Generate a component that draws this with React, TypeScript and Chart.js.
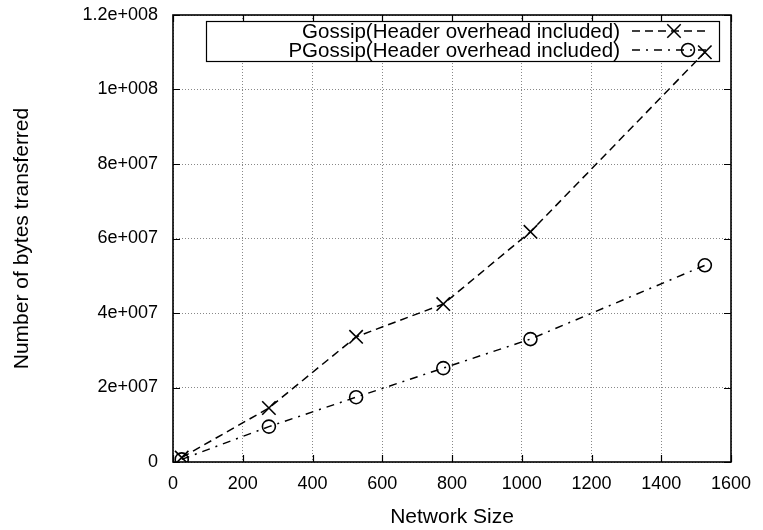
import React, { useEffect, useRef } from "react";
import { Chart, registerables } from "chart.js";

Chart.register(...registerables);

const networkSizes = [25, 275, 525, 775, 1025, 1525];
const gossipBytes = [1.2e6, 1.45e7, 3.36e7, 4.24e7, 6.18e7, 1.1e8];
const pgossipBytes = [0.7e6, 9.5e6, 1.74e7, 2.52e7, 3.3e7, 5.28e7];
const seriesLabels = [
  "Gossip(Header overhead included)",
  "PGossip(Header overhead included)",
];
const xTickLabels = ["0", "200", "400", "600", "800", "1000", "1200", "1400", "1600"];
const yTickLabels = ["0", "2e+007", "4e+007", "6e+007", "8e+007", "1e+008", "1.2e+008"];
const xTitle = "Network Size";
const yTitle = "Number of bytes transferred";

const FONT = "'Liberation Sans', Arial, Helvetica, sans-serif";

const framePlugin = {
  id: "gnuFrame",
  beforeDatasetsDraw(chart: any) {
    const { ctx, chartArea } = chart;
    const { left, right, top, bottom } = chartArea;
    const xs = chart.scales.x;
    const ys = chart.scales.y;
    ctx.save();
    // legend box
    const bx0 = 206, bx1 = 719, by0 = 21, by1 = 61;
    ctx.fillStyle = "#ffffff";
    ctx.fillRect(bx0, by0, bx1 - bx0, by1 - by0);
    ctx.strokeStyle = "#000";
    ctx.lineWidth = 1.2;
    ctx.strokeRect(bx0 + 0.5, by0 + 0.5, bx1 - bx0, by1 - by0);

    // frame
    ctx.lineWidth = 1.6;
    ctx.strokeStyle = "#000";
    ctx.strokeRect(left, top, right - left, bottom - top);
    // inward ticks
    const tl = 7;
    ctx.lineWidth = 1.2;
    ctx.beginPath();
    xs.ticks.forEach((t: any) => {
      const px = Math.round(xs.getPixelForValue(t.value)) + 0.5;
      ctx.moveTo(px, bottom);
      ctx.lineTo(px, bottom - tl);
      ctx.moveTo(px, top);
      ctx.lineTo(px, top + tl);
    });
    ys.ticks.forEach((t: any) => {
      const py = Math.round(ys.getPixelForValue(t.value)) + 0.5;
      ctx.moveTo(left, py);
      ctx.lineTo(left + tl, py);
      ctx.moveTo(right, py);
      ctx.lineTo(right - tl, py);
    });
    ctx.stroke();

    // legend entries
    const rows = [31, 50];
    const textRight = 620;
    const sx0 = 632, sx1 = 708;
    const markerX = [674, 688];
    ctx.font = `20.5px ${FONT}`;
    ctx.textAlign = "right";
    ctx.textBaseline = "middle";
    ctx.fillStyle = "#000";
    chart.data.datasets.forEach((ds: any, i: number) => {
      const y = rows[i];
      ctx.fillText(ds.label, textRight, y + 1);
      ctx.save();
      ctx.lineWidth = 1.5;
      ctx.setLineDash(ds.borderDash || []);
      ctx.beginPath();
      ctx.moveTo(sx0, y);
      ctx.lineTo(sx1, y);
      ctx.stroke();
      ctx.setLineDash([]);
      const mx = markerX[i];
      const r = ds.pointRadius;
      ctx.beginPath();
      if (ds.pointStyle === "crossRot") {
        const h = r * Math.SQRT1_2;
        ctx.moveTo(mx - h, y - h);
        ctx.lineTo(mx + h, y + h);
        ctx.moveTo(mx - h, y + h);
        ctx.lineTo(mx + h, y - h);
      } else {
        ctx.arc(mx, y, r, 0, Math.PI * 2);
      }
      ctx.stroke();
      ctx.restore();
    });
    ctx.restore();
  },
};

export default function App() {
  const ref = useRef<HTMLCanvasElement | null>(null);
  useEffect(() => {
    if (!ref.current) return;
    const toPts = (vals: number[]) => vals.map((v, i) => ({ x: networkSizes[i], y: v }));
    const chart = new Chart(ref.current, {
      type: "line",
      data: {
        datasets: [
          {
            label: seriesLabels[0],
            data: toPts(gossipBytes),
            borderColor: "#000",
            borderWidth: 1.5,
            borderDash: [8, 5],
            pointStyle: "crossRot",
            pointRadius: 9.5,
            pointBorderWidth: 1.6,
            pointBorderColor: "#000",
            pointBackgroundColor: "rgba(0,0,0,0)",
            fill: false,
            tension: 0,
          } as any,
          {
            label: seriesLabels[1],
            data: toPts(pgossipBytes),
            borderColor: "#000",
            borderWidth: 1.5,
            borderDash: [8, 6, 2, 6],
            pointStyle: "circle",
            pointRadius: 6.5,
            pointBorderWidth: 1.6,
            pointBorderColor: "#000",
            pointBackgroundColor: "rgba(0,0,0,0)",
            fill: false,
            tension: 0,
          } as any,
        ],
      },
      options: {
        animation: false,
        responsive: false,
        devicePixelRatio: 1,
        layout: { padding: { top: 15, right: 32, left: 0, bottom: 0 } },
        plugins: { legend: { display: false }, tooltip: { enabled: false } },
        scales: {
          x: {
            type: "linear",
            min: 0,
            max: 1600,
            ticks: {
              stepSize: 200,
              color: "#000",
              font: { family: FONT, size: 18 },
              padding: 11,
              maxRotation: 0,
              callback: (_v: any, i: number) => xTickLabels[i],
            },
            grid: { color: "#888888", lineWidth: 1, drawTicks: false },
            border: { display: false, dash: [1, 2] },
            title: {
              display: true,
              text: xTitle,
              color: "#000",
              font: { family: FONT, size: 21 },
              padding: { top: 0, bottom: 0 },
            },
            afterFit: (s: any) => {
              s.height = 68;
              s.paddingLeft = 0;
              s.paddingRight = 0;
            },
          },
          y: {
            type: "linear",
            min: 0,
            max: 1.2e8,
            ticks: {
              stepSize: 2e7,
              color: "#000",
              font: { family: FONT, size: 18 },
              padding: 15,
              callback: (_v: any, i: number) => yTickLabels[i],
            },
            grid: { color: "#888888", lineWidth: 1, drawTicks: false },
            border: { display: false, dash: [1, 2] },
            title: {
              display: true,
              text: yTitle,
              color: "#000",
              font: { family: FONT, size: 21 },
              padding: { top: 10, bottom: 0 },
            },
            afterFit: (s: any) => {
              s.width = 173;
              s.paddingTop = 0;
              s.paddingBottom = 0;
            },
          },
        },
      },
      plugins: [framePlugin],
    });
    return () => chart.destroy();
  }, []);
  return (
    <div style={{ position: "fixed", left: 0, top: 0, width: 763, height: 530, background: "#fff" }}>
      <canvas ref={ref} width={763} height={530} style={{ display: "block" }} />
    </div>
  );
}
